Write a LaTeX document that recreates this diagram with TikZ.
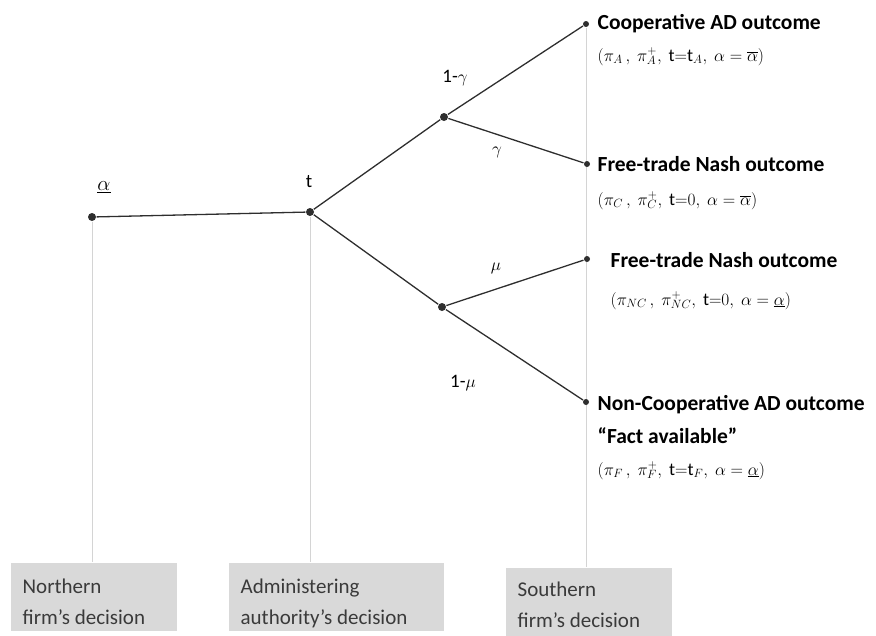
\documentclass[tikz,border=0pt]{standalone}
\usepackage{fontspec}
\setmainfont{Carlito}
\usetikzlibrary{positioning,backgrounds}
\definecolor{treeColor}{HTML}{2E2E2E}
\definecolor{guideColor}{HTML}{D4D4D4}
\definecolor{boxColor}{HTML}{D9D9D9}
\definecolor{boxText}{HTML}{3A3A3A}
\newcommand{\lowalpha}{\underline{\alpha}}
\newcommand{\highalpha}{\overline{\alpha}}
\newcommand{\payoff}[3]{$(\pi_{#1}\,,\ \pi^{+}_{#1},\ \mathrm{t{=}}#2,\ \alpha = #3)$}

\begin{document}
\begin{tikzpicture}[x=1pt,y=-1pt,line width=1.3pt,
		dot/.style={circle,fill=treeColor,inner sep=0,minimum size=#1},
		dot/.default=8pt,
		branch/.style={draw=treeColor},
		guide/.style={draw=guideColor,line width=0.7pt},
		outcome/.style={anchor=base west,inner sep=0,font=\fontsize{21.5}{26}\selectfont\bfseries},
		pay/.style={anchor=base west,inner sep=0,font=\fontsize{18}{22}\selectfont},
		prob/.style={inner sep=0,font=\fontsize{19}{22}\selectfont},
		decbox/.style={fill=boxColor,anchor=north west,minimum width=#1,minimum height=68pt,inner sep=0},
		boxlabel/.style={anchor=north west,inner sep=0,align=left,text=boxText,
			font=\fontsize{21}{31}\selectfont}]
	\useasboundingbox (0,0) rectangle (876,635);
	% decision nodes
	\node[dot] (north) at (92,217) {};
	\node[dot] (auth) at (310,212) {};
	\node[dot] (up) at (444,117) {};
	\node[dot] (low) at (442,307) {};
	% outcomes
	\node[dot=6pt] (coop) at (586,24) {};
	\node[dot=6pt] (ftnA) at (587,164) {};
	\node[dot=6pt] (ftnB) at (587,259) {};
	\node[dot=6pt] (ncoop) at (586,402) {};
	
	\node[prob,font=\fontsize{22}{24}\selectfont] (alab) at (104,187) {$\lowalpha$};
	\node[prob] (tlab) at (309,182) {t};
	
	\path[branch] (north) edge (auth)
		(auth) edge (up)
		(auth) edge (low)
		(up) edge (coop)
		(up) edge (ftnA)
		(low) edge (ftnB)
		(low) edge (ncoop);
	\node[prob] (pcoop) at (455,78) {1-$\gamma$};
	\node[prob] (pftnA) at (497,152) {$\gamma$};
	\node[prob] (pftnB) at (496,268) {$\mu$};
	\node[prob] (pncoop) at (463,383) {1-$\mu$};
	
	\node[outcome] (tcoop) at (597,29) {Cooperative AD outcome};
	\node[pay] (vcoop) at (597,61) {\payoff{A}{\mathrm{t}_{A}}{\highalpha}};
	\node[outcome] (tftnA) at (597,171) {Free-trade Nash outcome};
	\node[pay] (vftnA) at (597,205) {\payoff{C}{0}{\highalpha}};
	\node[outcome] (tftnB) at (610,267) {Free-trade Nash outcome};
	\node[pay] (vftnB) at (610,305) {\payoff{NC}{0}{\lowalpha}};
	\node[outcome] (tncoop) at (597,410) {Non-Cooperative AD outcome};
	\node[outcome] (tfact) at (597,443) {``Fact available''};
	\node[pay] (vncoop) at (597,475) {\payoff{F}{\mathrm{t}_{F}}{\lowalpha}};
	
	% decision boxes
	\node[decbox=166pt] (nbox) at (10,562) {};
	\node[decbox=215pt] (abox) at (228,562) {};
	\node[decbox=166pt] (sbox) at (505,567) {};
	\node[boxlabel] (ntext) at ([xshift=12pt,yshift=-16pt]nbox.north west) {Northern\\firm’s decision};
	\node[boxlabel] (atext) at ([xshift=12pt,yshift=-16pt]abox.north west) {Administering\\authority’s decision};
	\node[boxlabel] (stext) at ([xshift=12pt,yshift=-14pt]sbox.north west) {Southern\\firm’s decision};
	
	\begin{scope}[on background layer]
		\draw[guide] (north) -- (north |- nbox.north);
		\draw[guide] (auth) -- (auth |- abox.north);
		\draw[guide] (coop) -- (coop |- sbox.north);
	\end{scope}
\end{tikzpicture}
\end{document}
